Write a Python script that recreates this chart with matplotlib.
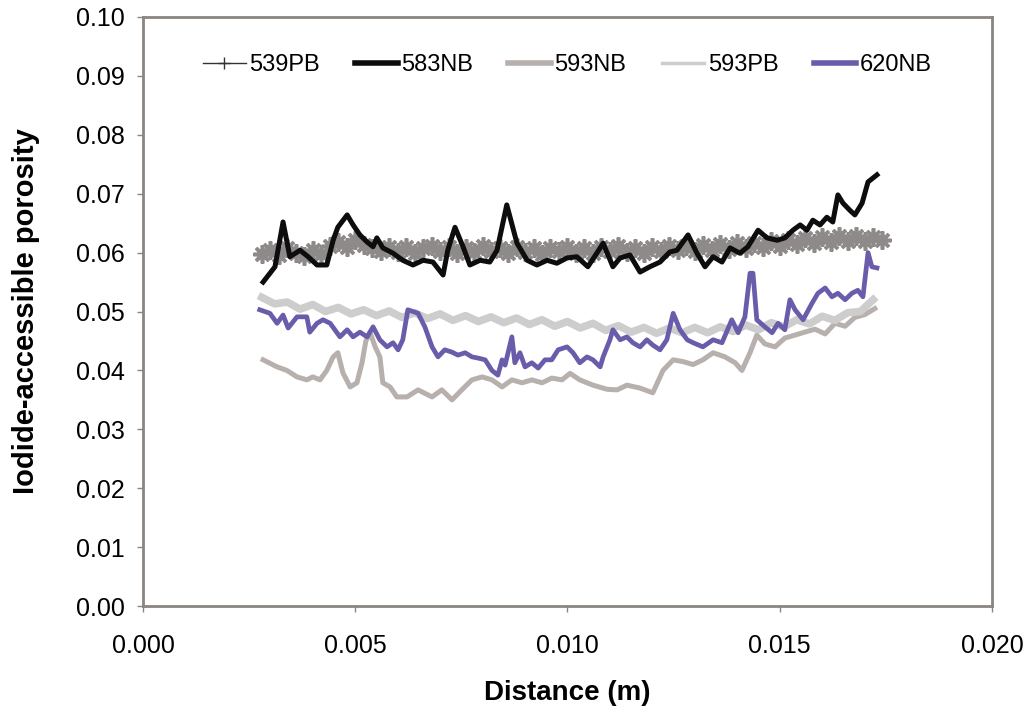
import numpy as np
import matplotlib
matplotlib.use("Agg")
import matplotlib.pyplot as plt
from matplotlib.lines import Line2D

plt.rcParams["font.family"] = ["Liberation Sans", "DejaVu Sans"]

# 539PB: regular sampling from 2.8 mm to 17.4 mm
por_539pb = [
    0.0597, 0.0604, 0.0596, 0.0607, 0.0600, 0.0594, 0.0604, 0.0598, 0.0611, 0.0618,
    0.0610, 0.0621, 0.0613, 0.0608, 0.0602, 0.0610, 0.0601, 0.0609, 0.0599, 0.0607,
    0.0612, 0.0602, 0.0609, 0.0599, 0.0608, 0.0601, 0.0611, 0.0602, 0.0608, 0.0599,
    0.0610, 0.0601, 0.0607, 0.0598, 0.0608, 0.0602, 0.0610, 0.0600, 0.0607, 0.0599,
    0.0609, 0.0602, 0.0611, 0.0601, 0.0608, 0.0600, 0.0610, 0.0603, 0.0612, 0.0604,
    0.0611, 0.0603, 0.0613, 0.0605, 0.0614, 0.0606, 0.0616, 0.0608, 0.0617, 0.0610,
    0.0620, 0.0612, 0.0621, 0.0614, 0.0625, 0.0617, 0.0627, 0.0618, 0.0628, 0.0619,
    0.0629, 0.0620, 0.0627, 0.0622,
]
dist_539pb = np.linspace(0.0028, 0.0174, len(por_539pb))

# 583NB (distance in mm)
dist_583nb = [
    2.83, 3.11, 3.30, 3.46, 3.70, 3.89, 4.10, 4.33, 4.48, 4.59, 4.81, 4.95, 5.11, 5.28,
    5.42, 5.51, 5.65, 5.89, 6.12, 6.36, 6.60, 6.83, 7.07, 7.18, 7.35, 7.54, 7.70, 7.94,
    8.17, 8.34, 8.57, 8.81, 9.05, 9.28, 9.52, 9.75, 9.99, 10.22, 10.48, 10.69, 10.84,
    11.07, 11.24, 11.47, 11.71, 11.94, 12.18, 12.41, 12.58, 12.84, 13.05, 13.24, 13.43,
    13.64, 13.83, 14.06, 14.25, 14.49, 14.70, 14.94, 15.12, 15.31, 15.48, 15.64, 15.78,
    15.95, 16.11, 16.25, 16.37, 16.49, 16.65, 16.77, 16.94, 17.08, 17.29,
]
por_583nb = [
    0.0550, 0.0576, 0.0652, 0.0593, 0.0604, 0.0593, 0.0579, 0.0579, 0.0621, 0.0643,
    0.0664, 0.0647, 0.0630, 0.0618, 0.0610, 0.0625, 0.0608, 0.0599, 0.0587, 0.0579,
    0.0587, 0.0584, 0.0562, 0.0604, 0.0643, 0.0610, 0.0579, 0.0587, 0.0584, 0.0604,
    0.0681, 0.0616, 0.0587, 0.0579, 0.0587, 0.0582, 0.0591, 0.0593, 0.0576, 0.0599,
    0.0616, 0.0576, 0.0591, 0.0596, 0.0567, 0.0576, 0.0584, 0.0601, 0.0604, 0.0630,
    0.0599, 0.0576, 0.0593, 0.0584, 0.0608, 0.0599, 0.0610, 0.0638, 0.0625, 0.0621,
    0.0625, 0.0638, 0.0647, 0.0638, 0.0655, 0.0647, 0.0660, 0.0652, 0.0698, 0.0684,
    0.0672, 0.0664, 0.0684, 0.0720, 0.0732,
]

# 593NB (distance in mm)
dist_593nb = [
    2.83, 3.16, 3.39, 3.63, 3.86, 4.00, 4.17, 4.33, 4.48, 4.59, 4.71, 4.88, 5.04, 5.16,
    5.25, 5.35, 5.47, 5.58, 5.65, 5.82, 5.98, 6.22, 6.48, 6.81, 7.04, 7.28, 7.51, 7.75,
    7.99, 8.22, 8.46, 8.69, 8.93, 9.16, 9.40, 9.63, 9.87, 10.06, 10.29, 10.60, 10.93,
    11.17, 11.40, 11.71, 12.01, 12.25, 12.49, 12.72, 12.96, 13.19, 13.43, 13.71, 13.95,
    14.11, 14.30, 14.46, 14.65, 14.89, 15.12, 15.36, 15.59, 15.83, 16.07, 16.30, 16.54,
    16.77, 17.01, 17.24,
]
por_593nb = [
    0.0418, 0.0406, 0.0400, 0.0389, 0.0384, 0.0389, 0.0384, 0.0400, 0.0423, 0.0430,
    0.0396, 0.0372, 0.0379, 0.0413, 0.0450, 0.0464, 0.0440, 0.0423, 0.0379, 0.0372,
    0.0355, 0.0355, 0.0367, 0.0355, 0.0367, 0.0350, 0.0367, 0.0384, 0.0389, 0.0384,
    0.0372, 0.0384, 0.0379, 0.0384, 0.0379, 0.0387, 0.0384, 0.0395, 0.0384, 0.0375,
    0.0368, 0.0367, 0.0375, 0.0370, 0.0362, 0.0400, 0.0418, 0.0415, 0.0410, 0.0418,
    0.0430, 0.0423, 0.0413, 0.0400, 0.0430, 0.0460, 0.0445, 0.0440, 0.0455, 0.0460,
    0.0465, 0.0470, 0.0462, 0.0480, 0.0475, 0.0490, 0.0495, 0.0505,
]

# 593PB: regular sampling from 2.8 mm to 17.2 mm
por_593pb = [
    0.0524, 0.0513, 0.0516, 0.0504, 0.0512, 0.0500, 0.0507, 0.0496, 0.0503, 0.0493,
    0.0501, 0.0490, 0.0498, 0.0488, 0.0496, 0.0485, 0.0493, 0.0483, 0.0491, 0.0481,
    0.0489, 0.0478, 0.0486, 0.0475, 0.0483, 0.0472, 0.0480, 0.0468, 0.0476, 0.0465,
    0.0473, 0.0463, 0.0472, 0.0464, 0.0473, 0.0464, 0.0474, 0.0466, 0.0477, 0.0469,
    0.0481, 0.0474, 0.0486, 0.0479, 0.0492, 0.0485, 0.0498, 0.0500, 0.0520,
]
dist_593pb = np.linspace(0.0028, 0.0172, len(por_593pb))

# 620NB (distance in mm)
dist_620nb = [
    2.75, 2.99, 3.16, 3.30, 3.42, 3.63, 3.86, 3.93, 4.10, 4.24, 4.41, 4.64, 4.81, 4.95,
    5.11, 5.28, 5.42, 5.58, 5.75, 5.89, 6.01, 6.12, 6.24, 6.48, 6.64, 6.81, 6.95, 7.11,
    7.28, 7.42, 7.59, 7.75, 7.89, 8.06, 8.22, 8.36, 8.46, 8.53, 8.69, 8.76, 8.88, 9.00,
    9.16, 9.31, 9.47, 9.63, 9.78, 9.99, 10.13, 10.29, 10.46, 10.60, 10.77, 10.84, 11.00,
    11.07, 11.24, 11.40, 11.54, 11.71, 11.87, 12.01, 12.18, 12.34, 12.49, 12.65, 12.82,
    12.96, 13.19, 13.43, 13.64, 13.87, 14.02, 14.18, 14.30, 14.37, 14.46, 14.65, 14.82,
    14.96, 15.12, 15.24, 15.36, 15.55, 15.76, 15.90, 16.07, 16.23, 16.37, 16.54, 16.70,
    16.84, 16.96, 17.08, 17.17, 17.29,
]
por_620nb = [
    0.0503, 0.0497, 0.0480, 0.0494, 0.0472, 0.0491, 0.0491, 0.0465, 0.0480, 0.0486,
    0.0480, 0.0457, 0.0469, 0.0457, 0.0465, 0.0457, 0.0474, 0.0452, 0.0440, 0.0447,
    0.0435, 0.0452, 0.0503, 0.0497, 0.0474, 0.0440, 0.0423, 0.0435, 0.0431, 0.0426,
    0.0430, 0.0423, 0.0421, 0.0418, 0.0400, 0.0392, 0.0418, 0.0409, 0.0457, 0.0413,
    0.0430, 0.0406, 0.0413, 0.0404, 0.0418, 0.0418, 0.0435, 0.0440, 0.0430, 0.0413,
    0.0423, 0.0418, 0.0406, 0.0423, 0.0452, 0.0469, 0.0452, 0.0457, 0.0447, 0.0440,
    0.0452, 0.0443, 0.0435, 0.0452, 0.0497, 0.0469, 0.0452, 0.0447, 0.0440, 0.0452,
    0.0447, 0.0486, 0.0464, 0.0491, 0.0565, 0.0565, 0.0486, 0.0474, 0.0464, 0.0480,
    0.0469, 0.0520, 0.0503, 0.0486, 0.0514, 0.0531, 0.0540, 0.0525, 0.0531, 0.0520,
    0.0531, 0.0536, 0.0525, 0.0600, 0.0576, 0.0574,
]

x_ticks = [0.0, 0.005, 0.010, 0.015, 0.020]
y_ticks = [0.00, 0.01, 0.02, 0.03, 0.04, 0.05, 0.06, 0.07, 0.08, 0.09, 0.10]

mm = 0.001

fig = plt.figure(figsize=(10.30, 7.08), dpi=100)
ax = fig.add_axes([0.1388, 0.144, 0.8243, 0.832])

star = (8, 2, 0)
ax.plot(dist_539pb, por_539pb, color="#8e8a8a", lw=2, marker=star,
        markersize=13, markeredgewidth=2.6, markeredgecolor="#8e8a8a")
ax.plot(np.array(dist_583nb) * mm, por_583nb, color="#0d0d0d", lw=3.6)
ax.plot(np.array(dist_593nb) * mm, por_593nb, color="#b7b0ac", lw=3.6)
ax.plot(dist_593pb, por_593pb, color="#cdcdcd", lw=5.5)
ax.plot(np.array(dist_620nb) * mm, por_620nb, color="#6a5cab", lw=3.4)

ax.set_xlim(0, 0.020)
ax.set_ylim(0, 0.10)
ax.set_xticks(x_ticks)
ax.set_xticklabels([f"{v:.3f}" for v in x_ticks])
ax.set_yticks(y_ticks)
ax.set_yticklabels([f"{v:.2f}" for v in y_ticks])
ax.tick_params(axis="both", labelsize=18, direction="out", length=4,
               width=1, color="#8a8580")
ax.tick_params(axis="y", pad=9)
ax.tick_params(axis="x", pad=16)

for s in ax.spines.values():
    s.set_color("#8a8580")
    s.set_linewidth(2)

ax.set_xlabel("Distance (m)", fontsize=20, fontweight="bold", labelpad=16)
ax.set_ylabel("Iodide-accessible porosity", fontsize=21, fontweight="bold", labelpad=26)

handles = [
    Line2D([], [], color="#333333", lw=1, marker="+", markersize=9, markeredgewidth=1),
    Line2D([], [], color="#0d0d0d", lw=4),
    Line2D([], [], color="#b7b0ac", lw=4),
    Line2D([], [], color="#cdcdcd", lw=2.5),
    Line2D([], [], color="#6a5cab", lw=4),
]
labels = ["539PB", "583NB", "593NB", "593PB", "620NB"]
ax.legend(handles, labels, loc="center", bbox_to_anchor=(0.5, 0.918), ncol=5,
          frameon=False, fontsize=17, handlelength=1.8, handletextpad=0.15,
          columnspacing=1.5)

fig.savefig("out.png", dpi=100, facecolor="white")
